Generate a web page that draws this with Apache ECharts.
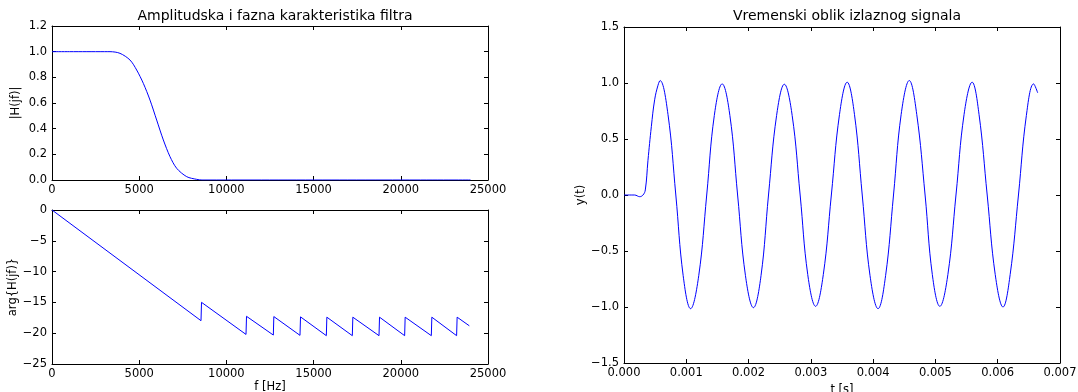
<!DOCTYPE html>
<html>
<head>
<meta charset="utf-8">
<title>Filter response</title>
<script src="https://cdn.jsdelivr.net/npm/echarts@6/dist/echarts.min.js"></script>
<style>
  html, body { margin: 0; padding: 0; background: #fff; }
  #chart { width: 1078px; height: 392px; }
</style>
</head>
<body>
<div id="chart"></div>
<script>
const ampFreq = [0, 1000, 2000, 3000, 3326, 3899, 4472, 4855, 5237, 5619, 6002, 6384, 6766, 7150, 7723, 8297, 8600, 12000, 16000, 20000, 24000];
const ampValue = [1.0, 1.0, 1.0, 1.0, 1.0, 0.987, 0.935, 0.857, 0.753, 0.623, 0.467, 0.312, 0.182, 0.091, 0.026, 0.005, 0, 0, 0, 0, 0];

const phaseFreq = [0, 8544, 8574, 11124, 11154, 12690, 12720, 14220, 14250, 15730, 15760, 17220, 17250, 18750, 18780, 20220, 20250, 21750, 21780, 23200, 23230, 23930];
const phaseValue = [0, -17.97, -14.99, -20.2, -17.26, -20.3, -17.3, -20.35, -17.35, -20.4, -17.4, -20.4, -17.4, -20.4, -17.4, -20.4, -17.4, -20.4, -17.4, -20.4, -17.4, -18.8];

const sigTime = [
  0, 0.00017, 0.000252, 0.000305, 0.000342, 0.000385, 0.000439, 0.000492, 0.000546, 0.000579,
  0.000706, 0.000832, 0.00095, 0.001069,
  0.0012, 0.001328, 0.00145, 0.001576,
  0.0017, 0.001824, 0.00195, 0.002078,
  0.0022, 0.00232, 0.00245, 0.002574,
  0.0027, 0.002828, 0.00295, 0.003076,
  0.0032, 0.003329, 0.00346, 0.003583,
  0.0037, 0.003825, 0.00395, 0.004079,
  0.0042, 0.004327, 0.00445, 0.00458,
  0.0047, 0.004834, 0.00495, 0.005071,
  0.0052, 0.00533, 0.00546, 0.005589,
  0.0057, 0.005831, 0.00596, 0.006085,
  0.0062, 0.006333, 0.00646, 0.006576, 0.006642
];
const sigValue = [
  0, 0, -0.015, 0, 0.045, 0.31, 0.61, 0.85, 0.98, 1.022,
  0.72, 0, -0.72, -1.015,
  -0.72, 0, 0.71, 0.992,
  0.71, 0, -0.72, -1.006,
  -0.72, 0, 0.71, 0.989,
  0.71, 0, -0.71, -0.994,
  -0.71, 0, 0.72, 1.007,
  0.72, 0, -0.72, -1.015,
  -0.72, 0, 0.72, 1.022,
  0.72, 0, -0.71, -0.994,
  -0.71, 0, 0.72, 1.007,
  0.72, 0, -0.71, -1.0,
  -0.71, 0, 0.71, 0.992, 0.912
];

const titles = ['Amplitudska i fazna karakteristika filtra', 'Vremenski oblik izlaznog signala'];

const font = 'DejaVu Sans';
const minus = (s) => s.replace('-', '\u2212');
const zip = (xs, ys) => xs.map((x, i) => [x, ys[i]]);

const chart = echarts.init(document.getElementById('chart'));

const grids = [
  { left: 52, top: 26, width: 436, height: 154, outerBoundsMode: 'none', containLabel: false },
  { left: 52, top: 210, width: 436, height: 154, outerBoundsMode: 'none', containLabel: false },
  { left: 624, top: 27, width: 436, height: 336, outerBoundsMode: 'none', containLabel: false }
];

const axisLine = { show: true, onZero: false, lineStyle: { color: '#000', width: 1 } };
const tick = { show: true, inside: true, length: 4, lineStyle: { color: '#000' } };
const label = { color: '#000', fontFamily: font, fontSize: 11.5 };

const makeX = (grid, min, max, interval, fmt, name, position) => ({
  type: 'value',
  gridIndex: grid,
  position: position,
  min: min,
  max: max,
  interval: interval,
  axisLine: axisLine,
  axisTick: tick,
  splitLine: { show: false },
  axisLabel: position === 'bottom'
    ? Object.assign({ margin: 4, formatter: fmt, showMinLabel: true, showMaxLabel: true }, label)
    : { show: false },
  name: position === 'bottom' ? name : '',
  nameLocation: 'middle',
  nameGap: 15,
  nameTextStyle: { color: '#000', fontFamily: font, fontSize: 11.5 }
});

const makeY = (grid, min, max, interval, fmt, name, position, gap) => ({
  type: 'value',
  gridIndex: grid,
  position: position,
  min: min,
  max: max,
  interval: interval,
  axisLine: axisLine,
  axisTick: tick,
  splitLine: { show: false },
  axisLabel: position === 'left'
    ? Object.assign({ margin: 5, formatter: fmt, showMinLabel: true, showMaxLabel: true }, label)
    : { show: false },
  name: position === 'left' ? name : '',
  nameLocation: 'middle',
  nameRotate: 90,
  nameGap: gap,
  nameTextStyle: { color: '#000', fontFamily: font, fontSize: 11.5 }
});

const fmtInt = (v) => minus(String(v));
const fmt1 = (v) => minus(v.toFixed(1));
const fmt3 = (v) => v.toFixed(3);

const option = {
  animation: false,
  backgroundColor: '#fff',
  title: [
    { text: titles[0], left: 270, top: 4, textAlign: 'center',
      textStyle: { fontFamily: font, fontSize: 14, fontWeight: 'normal', color: '#000' } },
    { text: titles[1], left: 842, top: 4, textAlign: 'center',
      textStyle: { fontFamily: font, fontSize: 14, fontWeight: 'normal', color: '#000' } }
  ],
  grid: grids,
  xAxis: [
    makeX(0, 0, 25000, 5000, fmtInt, '', 'bottom'),
    makeX(1, 0, 25000, 5000, fmtInt, 'f [Hz]', 'bottom'),
    makeX(2, 0, 0.007, 0.001, fmt3, 't [s]', 'bottom'),
    makeX(0, 0, 25000, 5000, fmtInt, '', 'top'),
    makeX(1, 0, 25000, 5000, fmtInt, '', 'top'),
    makeX(2, 0, 0.007, 0.001, fmt3, '', 'top')
  ],
  yAxis: [
    makeY(0, 0, 1.2, 0.2, fmt1, '|H(jf)|', 'left', 30),
    makeY(1, -25, 0, 5, fmtInt, 'arg{H(jf)}', 'left', 30),
    makeY(2, -1.5, 1.5, 0.5, fmt1, 'y(t)', 'left', 37),
    makeY(0, 0, 1.2, 0.2, fmt1, '', 'right', 0),
    makeY(1, -25, 0, 5, fmtInt, '', 'right', 0),
    makeY(2, -1.5, 1.5, 0.5, fmt1, '', 'right', 0)
  ],
  series: [
    {
      type: 'line', xAxisIndex: 0, yAxisIndex: 0,
      data: zip(ampFreq, ampValue), smooth: 0.3, showSymbol: false,
      lineStyle: { color: '#0000ff', width: 1 }
    },
    {
      type: 'line', xAxisIndex: 1, yAxisIndex: 1,
      data: zip(phaseFreq, phaseValue), showSymbol: false,
      lineStyle: { color: '#0000ff', width: 1 }
    },
    {
      type: 'line', xAxisIndex: 2, yAxisIndex: 2,
      data: zip(sigTime, sigValue), smooth: 0.4, showSymbol: false,
      lineStyle: { color: '#0000ff', width: 1 }
    }
  ]
};

chart.setOption(option);
</script>
</body>
</html>
